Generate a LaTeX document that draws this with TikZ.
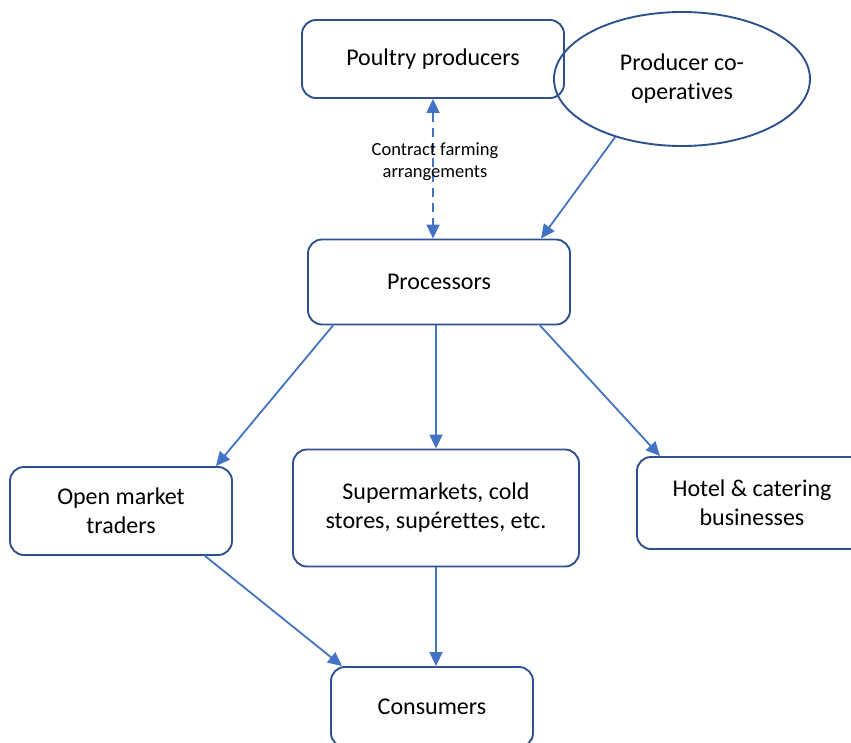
\documentclass[tikz,border=0pt]{standalone}
\usepackage{fontspec}
\setmainfont{Carlito}[Ligatures=NoCommon]
\usetikzlibrary{arrows.meta,shapes.geometric}
\definecolor{bord}{HTML}{2F528F}
\definecolor{arr}{HTML}{4472C4}
\begin{document}
\begin{tikzpicture}[x=1pt,y=-1pt,
  box/.style={draw=bord,line width=1.9pt,rounded corners=14pt,align=center,
    font=\fontsize{24}{29}\selectfont,inner sep=0pt},
  oval/.style={draw=bord,line width=1.9pt,ellipse,align=center,
    font=\fontsize{24}{29}\selectfont,inner sep=0pt},
  conn/.style={draw=arr,line width=1.8pt,-{Triangle[length=14pt,width=13pt]}},
  lbl/.style={font=\fontsize{18.5}{22}\selectfont,align=center}
]
\useasboundingbox (0,0) rectangle (851,742);
\clip (0,0) rectangle (851,742);

\node[box,minimum width=262pt,minimum height=78pt] (poultry) at (433,59) {Poultry producers};
\node[oval,minimum width=256pt,minimum height=134pt] (coop) at (682,79) {Producer co-\\operatives};
\node[box,minimum width=262pt,minimum height=85pt] (proc) at (439,282) {\raisebox{-4pt}{Processors}};
\node[box,minimum width=222pt,minimum height=88pt] (open) at (121,511) {Open market\\traders};
\node[box,minimum width=286pt,minimum height=117pt] (super) at (436,508) {Supermarkets, cold\\stores, supérettes, etc.};
\node[box,minimum width=230pt,minimum height=92pt] (hotel) at (752,503) {Hotel \& catering\\businesses};
\node[box,minimum width=202pt,minimum height=80pt] (cons) at (432,707) {Consumers};

\draw[draw=arr,line width=1.8pt,{Triangle[length=14pt,width=13pt]}-{Triangle[length=14pt,width=13pt]},
  dash pattern=on 9pt off 6pt] (poultry.south) -- (poultry.south |- proc.north);
\node[lbl] (contract) at (435,162) {Contract farming\\arrangements};

\draw[conn] (coop.221) -- ([xshift=102pt]proc.north);
\draw[conn] (super.north |- proc.south) -- (super.north);
\draw[conn] ([xshift=-106pt]proc.south) -- ([xshift=95pt]open.north);
\draw[conn] ([xshift=101pt]proc.south) -- ([xshift=-92pt]hotel.north);
\draw[conn] ([xshift=84pt]open.south) -- ([xshift=-90pt]cons.north);
\draw[conn] (super.south) -- (super.south |- cons.north);
\end{tikzpicture}
\end{document}
